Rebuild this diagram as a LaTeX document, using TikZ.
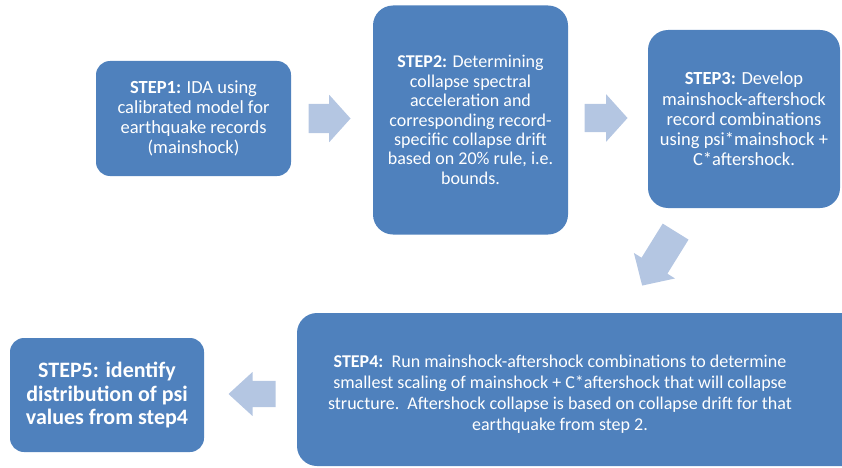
\documentclass[tikz,border=0pt]{standalone}
\usepackage{fontspec}
\setmainfont{Carlito}
\usepackage{tikz}
\usetikzlibrary{shapes.arrows,calc}
\definecolor{boxblue}{HTML}{4F81BD}
\definecolor{arrowblue}{HTML}{B4C6E2}

\begin{document}
\begin{tikzpicture}[x=1pt,y=1pt,
  stepbox/.style={fill=boxblue,rounded corners=14pt,text=white,align=center,inner sep=0pt},
  steptext/.style={text=white,align=center,inner sep=0pt},
  steparrow/.style={single arrow,anchor=tip,fill=arrowblue,inner xsep=0pt,inner ysep=14.5pt,single arrow head extend=9pt}]
\useasboundingbox (0,0) rectangle (842,467);
\node[stepbox,minimum width=195pt,minimum height=115pt,font=\fontsize{18.5}{20.2}\selectfont] (s1) at (193.5,348.5)
  {\textbf{STEP1:} IDA using\\calibrated model for\\earthquake records\\(mainshock)};
\node[stepbox,rounded corners=20pt,minimum width=195pt,minimum height=229pt,font=\fontsize{18}{19.4}\selectfont] (s2) at (470.5,347)
  {\textbf{STEP2:} Determining\\collapse spectral\\acceleration and\\corresponding record-\\specific collapse drift\\based on 20\% rule, i.e.\\bounds.};
\node[stepbox,rounded corners=20pt,minimum width=192pt,minimum height=178pt,font=\fontsize{18.5}{20.3}\selectfont] (s3) at (744,348)
  {\textbf{STEP3:} Develop\\mainshock-aftershock\\record combinations\\using psi*mainshock +\\C*aftershock.};
\node[stepbox,rounded corners=20pt,minimum width=573pt,minimum height=153pt] (s4) at (583.5,77.5) {};
\node[steptext,font=\fontsize{18}{20.8}\selectfont] (s4text) at (560,73)
  {\textbf{STEP4:}\ \ Run mainshock-aftershock combinations to determine\\smallest scaling of mainshock + C*aftershock that will collapse\\structure.\ \ Aftershock collapse is based on collapse drift for that\\earthquake from step 2.};
\node[stepbox,minimum width=194pt,minimum height=114pt,font=\bfseries\fontsize{22}{23.5}\selectfont] (s5) at (107,72)
  {STEP5: identify\\distribution of psi\\values from step4};
\node[steparrow,single arrow tip angle=96,minimum height=42pt] (a12) at ([xshift=-22pt,yshift=1.5pt]s2.west) {};
\node[steparrow,single arrow tip angle=96,minimum height=43pt,single arrow head extend=9.5pt,inner ysep=14pt] (a23) at ([xshift=-20pt,yshift=1pt]s3.west) {};
\node[steparrow,single arrow tip angle=92,rotate=238.2,minimum height=63.5pt,inner ysep=15pt] (a34) at ([xshift=58.5pt,yshift=27pt]s4.north) {};
\node[steparrow,single arrow tip angle=85,rotate=180,minimum height=47pt,inner ysep=13pt] (a45) at ([xshift=24pt,yshift=1pt]s5.east) {};
\end{tikzpicture}
\end{document}
